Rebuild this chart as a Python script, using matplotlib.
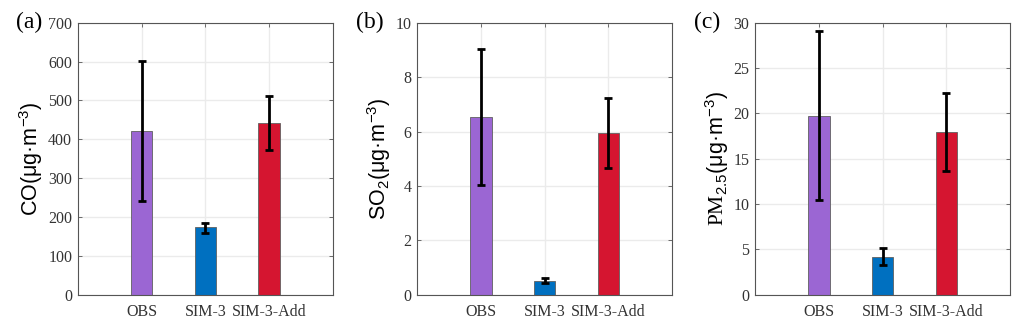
import matplotlib
matplotlib.use("Agg")
import matplotlib.pyplot as plt

plt.rcParams['font.family'] = 'Liberation Serif'
plt.rcParams['mathtext.fontset'] = 'custom'
plt.rcParams['mathtext.rm'] = 'Liberation Serif'
plt.rcParams['mathtext.sf'] = 'Liberation Sans'
plt.rcParams['mathtext.it'] = 'Liberation Sans:italic'

cases = ['OBS', 'SIM-3', 'SIM-3-Add']
colors = ['#9b66d3', '#0070c0', '#d51530']

co_mean = [422, 173, 443]
co_low = [242, 160, 373]
co_high = [602, 185, 512]

so2_mean = [6.55, 0.52, 5.93]
so2_low = [4.05, 0.42, 4.65]
so2_high = [9.05, 0.62, 7.22]

pm_mean = [19.7, 4.2, 18.0]
pm_low = [10.4, 3.3, 13.7]
pm_high = [29.1, 5.1, 22.3]

panels = [
    ('(a)', r'CO(μg·m$\mathsf{^{-3}}$)', co_mean, co_low, co_high, 700, 100),
    ('(b)', r'SO$\mathsf{_2}$(μg·m$\mathsf{^{-3}}$)', so2_mean, so2_low, so2_high, 10, 2),
    ('(c)', r'$\mathrm{PM}_{\mathsf{2.5}}$(μg·m$\mathsf{^{-3}}$)', pm_mean, pm_low, pm_high, 30, 5),
]
lefts = [0.0759, 0.4072, 0.7373]

fig = plt.figure(figsize=(10.24, 3.23), dpi=100)
for left, (tag, ylab, mean, low, high, ymax, step) in zip(lefts, panels):
    ax = fig.add_axes([left, 0.0876, 0.2493, 0.842])
    x = [1, 2, 3]
    err = [[m - l for m, l in zip(mean, low)], [h - m for m, h in zip(mean, high)]]
    ax.bar(x, mean, width=0.34, color=colors, edgecolor='#606060', linewidth=0.6, zorder=2)
    ax.errorbar(x, mean, yerr=err, fmt='none', ecolor='black', elinewidth=2,
                capsize=3, capthick=2, zorder=3)
    ax.set_xlim(0, 4)
    ax.set_ylim(0, ymax)
    ax.set_yticks(range(0, ymax + 1, step))
    ax.set_xticks(x)
    ax.set_xticklabels(cases)
    ax.tick_params(direction='in', length=3, width=0.6, color='#555555',
                   labelsize=11.5, labelcolor='#333333', top=True, right=True, pad=4)
    ax.tick_params(axis='x', pad=7)
    ax.grid(True, color='#ebebeb', linewidth=1, zorder=0)
    ax.set_axisbelow(True)
    for s in ax.spines.values():
        s.set_color('#555555')
        s.set_linewidth(0.8)
    ax.set_ylabel(ylab, fontfamily='Liberation Sans', fontsize=15.5, labelpad=2)
    fig.text(left - 0.060, 0.93, tag, fontsize=17, ha='left', va='center')

fig.savefig('out.png', dpi=100)
